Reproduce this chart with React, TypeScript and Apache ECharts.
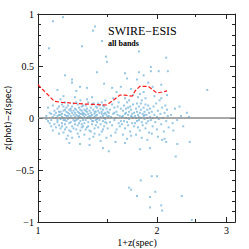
import React, { useEffect, useRef } from "react";
import * as echarts from "echarts";

// 1+z(spec), z(phot)-z(spec)
const clusterPoints: [number, number][] = [
  [1.05,0.02],[1.06,-0.03],[1.07,0.05],[1.08,-0.08],[1.06,0.10],[1.09,0.01],[1.08,-0.02],[1.10,0.07],[1.09,-0.12],[1.07,-0.05],[1.10,0.03],[1.05,-0.01],[1.09,0.12],[1.08,0.04],[1.10,-0.06],
  [1.11,0.00],[1.11,0.05],[1.12,-0.04],[1.12,0.09],[1.12,0.02],[1.13,-0.07],[1.13,0.03],[1.13,0.11],[1.14,-0.01],[1.14,0.06],[1.14,-0.10],[1.15,0.01],[1.15,0.04],[1.15,-0.05],[1.15,0.13],[1.16,-0.02],[1.16,0.07],[1.16,0.00],[1.16,-0.14],[1.17,0.03],[1.17,-0.06],[1.17,0.08],[1.17,0.15],[1.18,-0.03],[1.18,0.02],[1.18,0.10],[1.18,-0.09],[1.19,0.05],[1.19,-0.01],[1.19,0.12],[1.19,-0.17],[1.20,0.00],[1.20,0.04],[1.20,-0.05],[1.20,0.08],[1.11,-0.09],[1.13,-0.15],[1.14,0.18],[1.16,0.21],[1.18,-0.20],[1.12,-0.02],[1.15,-0.08],[1.17,-0.11],[1.19,0.02],[1.14,0.03],[1.16,0.11],[1.18,0.06],[1.20,-0.12],[1.13,0.06],[1.17,-0.02],
  [1.21,0.02],[1.21,-0.04],[1.21,0.07],[1.22,0.00],[1.22,0.11],[1.22,-0.08],[1.23,0.03],[1.23,-0.02],[1.23,0.14],[1.24,0.05],[1.24,-0.06],[1.24,0.01],[1.25,-0.11],[1.25,0.08],[1.25,0.03],[1.26,-0.01],[1.26,0.06],[1.26,-0.15],[1.27,0.02],[1.27,0.10],[1.27,-0.05],[1.28,0.04],[1.28,-0.03],[1.28,0.17],[1.29,0.00],[1.29,0.07],[1.29,-0.09],[1.30,0.03],[1.30,-0.02],[1.30,0.12],[1.21,-0.13],[1.22,0.05],[1.23,-0.10],[1.24,0.09],[1.25,-0.02],[1.26,0.13],[1.27,-0.18],[1.28,0.08],[1.29,-0.06],[1.30,0.05],[1.22,-0.19],[1.24,0.20],[1.26,0.02],[1.28,-0.12],[1.23,0.07],[1.25,0.15],[1.27,0.00],[1.29,0.04],[1.21,0.09],[1.26,-0.07],[1.28,0.01],[1.30,-0.08],[1.24,-0.03],[1.27,0.05],[1.29,0.11],
  [1.31,0.01],[1.31,-0.05],[1.31,0.08],[1.32,0.03],[1.32,-0.02],[1.32,0.12],[1.33,0.00],[1.33,-0.09],[1.33,0.06],[1.34,0.04],[1.34,-0.04],[1.34,0.15],[1.35,0.02],[1.35,-0.12],[1.35,0.07],[1.36,-0.01],[1.36,0.10],[1.36,0.05],[1.37,-0.06],[1.37,0.03],[1.37,0.13],[1.38,0.00],[1.38,-0.03],[1.38,0.08],[1.39,0.04],[1.39,-0.10],[1.39,0.01],[1.40,0.06],[1.40,-0.02],[1.40,0.11],[1.31,-0.16],[1.33,0.18],[1.35,-0.20],[1.37,0.20],[1.39,-0.15],[1.32,0.07],[1.34,-0.08],[1.36,0.02],[1.38,0.14],[1.40,-0.07],[1.31,0.04],[1.33,0.09],[1.35,0.00],[1.37,-0.03],[1.39,0.06],[1.34,0.01],[1.36,-0.13],[1.38,-0.18],[1.32,-0.11],[1.40,0.02],
  [1.41,0.03],[1.41,-0.04],[1.42,0.07],[1.42,0.00],[1.42,-0.09],[1.43,0.05],[1.43,0.12],[1.43,-0.02],[1.44,0.01],[1.44,0.09],[1.44,-0.06],[1.45,0.04],[1.45,-0.13],[1.45,0.15],[1.46,0.02],[1.46,-0.03],[1.46,0.08],[1.47,0.00],[1.47,0.11],[1.47,-0.08],[1.48,0.05],[1.48,-0.01],[1.48,0.17],[1.49,0.03],[1.49,-0.05],[1.49,0.09],[1.50,0.01],[1.50,-0.10],[1.41,0.10],[1.43,-0.16],[1.45,0.06],[1.47,0.04],[1.49,-0.19],[1.42,0.14],[1.44,-0.22],[1.46,0.12],[1.48,-0.04],[1.50,0.06],[1.46,-0.11],[1.41,-0.01],
  [1.51,0.02],[1.52,-0.04],[1.52,0.08],[1.53,0.01],[1.54,0.13],[1.54,-0.07],[1.55,0.04],[1.56,-0.02],[1.56,0.10],[1.57,0.00],[1.58,-0.11],[1.58,0.06],[1.59,0.03],[1.60,-0.05],[1.60,0.15],[1.61,0.02],[1.62,-0.03],[1.62,0.09],[1.53,-0.17],[1.55,0.19],[1.57,-0.14],[1.59,0.11],[1.61,-0.08],[1.51,0.05],[1.56,0.05],
  [1.63,0.01],[1.63,-0.06],[1.64,0.07],[1.64,0.02],[1.65,-0.03],[1.65,0.12],[1.66,0.04],[1.66,-0.10],[1.67,0.00],[1.67,0.09],[1.68,-0.04],[1.68,0.15],[1.69,0.03],[1.69,-0.07],[1.70,0.06],[1.70,-0.01],[1.71,0.11],[1.71,-0.13],[1.72,0.02],[1.72,0.08],[1.73,-0.05],[1.73,0.04],[1.74,0.00],[1.74,0.13],[1.75,-0.08],[1.75,0.05],[1.64,-0.16],[1.66,0.19],[1.68,-0.20],[1.70,0.17],[1.72,-0.17],[1.74,0.22],[1.67,0.05],[1.69,0.10],[1.73,0.01],
  [1.76,0.02],[1.76,-0.05],[1.77,0.09],[1.77,0.00],[1.78,-0.03],[1.78,0.06],[1.78,0.14],[1.79,0.03],[1.79,-0.09],[1.80,0.01],[1.80,0.11],[1.80,-0.02],[1.81,0.05],[1.81,-0.12],[1.82,0.08],[1.82,0.00],[1.83,-0.04],[1.83,0.17],[1.84,0.04],[1.84,-0.07],[1.85,0.02],[1.85,0.10],[1.86,-0.01],[1.86,0.06],[1.87,-0.10],[1.87,0.13],[1.88,0.03],[1.88,-0.05],[1.89,0.08],[1.89,0.00],[1.90,-0.03],[1.90,0.12],[1.91,0.05],[1.91,-0.14],[1.92,0.01],[1.92,0.09],[1.77,-0.16],[1.79,0.20],[1.81,0.23],[1.83,-0.19],[1.85,0.25],[1.87,0.19],[1.89,-0.21],[1.82,0.14],[1.86,0.03],
  [1.93,-0.02],[1.94,0.06],[1.95,0.00],[1.95,-0.08],[1.96,0.11],[1.97,0.03],[1.98,-0.04],[1.99,0.14],[2.00,0.01],[2.00,-0.11],[2.01,0.07],[2.02,-0.01],[2.03,0.17],[2.04,0.04],[2.05,-0.06],[2.06,0.10],[2.07,0.00],[2.08,-0.13],[2.09,0.05],[2.10,0.12],[2.11,-0.03],[2.12,0.08],[2.13,0.02],[2.14,-0.09],[1.97,0.21],[2.01,-0.18],[2.05,0.19],[2.09,-0.20],[2.12,0.22],[1.94,-0.15],
  [2.17,0.03],[2.19,-0.05],[2.22,0.09],[2.25,-0.02],[2.28,0.11],[2.33,-0.08],[2.41,0.01],[2.38,0.05],[2.20,-0.12],[2.30,0.02],
];

const highOutliers: [number, number][] = [
  [1.091,0.93],[1.157,0.97],[1.066,0.67],[1.292,0.69],[1.394,0.88],[1.378,0.84],[1.452,0.74],[1.486,0.59],[1.495,0.54],[1.41,0.44],[1.17,0.41],[1.219,0.37],[1.219,0.34],[1.277,0.30],[1.33,0.29],[1.54,0.29],[1.80,0.64],[2.11,0.58],[1.93,0.49],[1.93,0.45],[2.02,0.45],[2.13,0.45],[2.68,0.27],[1.68,0.38],[1.80,0.44],[1.78,0.37],[1.85,0.41],[1.66,0.43],[1.62,0.30],[1.72,0.28],[1.95,0.30],[2.05,0.32],[1.25,0.26],[1.47,0.33],[1.12,0.27],[1.58,0.25],[1.90,0.34],
];

const lowOutliers: [number, number][] = [
  [1.277,-0.25],[1.51,-0.32],[2.0,-0.56],[1.94,-0.56],[1.82,-0.60],[1.70,-0.67],[1.72,-0.69],[1.78,-0.75],[1.92,-0.76],[1.98,-0.71],[2.31,-0.75],[1.92,-0.86],[2.05,-0.84],[2.06,-0.89],[2.45,-0.98],[2.23,-0.37],[2.42,-0.23],[2.25,-0.25],[2.11,-0.23],[1.81,-0.30],[1.66,-0.24],[1.46,-0.29],[1.57,-0.23],[1.20,-0.24],[1.35,-0.26],[1.92,-0.29],[2.06,-0.21],
];

const curveZ = [1.0, 1.1, 1.15, 1.2, 1.3, 1.4, 1.49, 1.55, 1.61, 1.66, 1.73, 1.76, 1.81, 1.9, 2.0, 2.06, 2.12];
const curveDz = [0.32, 0.16, 0.15, 0.145, 0.135, 0.13, 0.125, 0.17, 0.22, 0.22, 0.21, 0.26, 0.305, 0.305, 0.24, 0.25, 0.26];

const xMajorTicks = [1, 2, 3];
const xMinorTicks = [1.5, 2.5];
const xMax = 3.15;
const xTitle = "1+z(spec)";
const yTitle = "z(phot)\u2212z(spec)";

const lg = (v: number) => Math.log10(v);
const FONT = "Liberation Serif";

export default function App() {
  const ref = useRef<HTMLDivElement>(null);
  useEffect(() => {
    if (!ref.current) return;
    const chart = echarts.init(ref.current, undefined, { renderer: "svg" });
    const allPts = [...clusterPoints, ...highOutliers, ...lowOutliers].map(([z, d]) => [lg(z), d]);
    const baseX = (pos: "bottom" | "top", ticks: number[], len: number, labels: boolean) => ({
      type: "value",
      position: pos,
      min: 0,
      max: lg(xMax),
      axisLine: { show: true, onZero: false, lineStyle: { color: "#222", width: 1 } },
      axisTick: { show: true, inside: true, length: len, customValues: ticks.map(lg), lineStyle: { color: "#222" } },
      axisLabel: {
        show: labels,
        customValues: ticks.map(lg),
        formatter: (v: number) => String(Math.round(Math.pow(10, v))),
        color: "#000",
        fontFamily: FONT,
        fontSize: 10,
        margin: 3,
      },
      splitLine: { show: false },
    });
    const yFmt = (v: number) => (v === 0 ? "0" : v < 0 ? "\u2212" + Math.abs(v) : String(v));
    const baseY = (pos: "left" | "right", labels: boolean) => ({
      type: "value",
      position: pos,
      min: -1,
      max: 1,
      interval: 0.5,
      axisLine: { show: true, onZero: false, lineStyle: { color: "#222", width: 1 } },
      axisTick: { show: true, inside: true, length: 5, lineStyle: { color: "#222" } },
      minorTick: { show: true, splitNumber: 5, length: 3, lineStyle: { color: "#222" } },
      axisLabel: { show: labels, formatter: yFmt, color: "#000", fontFamily: FONT, fontSize: 10, margin: 4 },
      splitLine: { show: false },
      minorSplitLine: { show: false },
    });
    chart.setOption({
      animation: false,
      backgroundColor: "#fff",
      grid: { left: 38, top: 14, right: 14, bottom: 27, containLabel: false, outerBoundsMode: "none" },
      xAxis: [
        baseX("bottom", xMajorTicks, 5, true),
        baseX("bottom", xMinorTicks, 3, false),
        baseX("top", xMajorTicks, 5, false),
        baseX("top", xMinorTicks, 3, false),
      ],
      yAxis: [baseY("left", true), baseY("right", false)],
      graphic: [
        { type: "text", left: 108, top: 25, style: { text: "SWIRE\u2212ESIS", font: `12px "${FONT}"`, fill: "#000" } },
        { type: "text", left: 108, top: 39, style: { text: "all bands", font: `bold 8px "${FONT}"`, fill: "#000" } },
        { type: "text", x: 137, y: 242, style: { text: xTitle, font: `10px "${FONT}"`, fill: "#000", align: "center", verticalAlign: "middle" } },
        { type: "text", x: 8, y: 118, rotation: Math.PI / 2, style: { text: yTitle, font: `8px "DejaVu Sans"`, fill: "#000", align: "center", verticalAlign: "middle" } },
      ],
      series: [
        {
          type: "scatter",
          xAxisIndex: 0,
          yAxisIndex: 0,
          symbol: "rect",
          symbolSize: 2,
          itemStyle: { color: "#7db8dc" },
          data: allPts,
          z: 2,
        },
        {
          type: "line",
          xAxisIndex: 0,
          yAxisIndex: 0,
          data: [[0, 0], [lg(xMax), 0]],
          symbol: "none",
          lineStyle: { color: "#8a8a8a", width: 1.5 },
          z: 3,
        },
        {
          type: "line",
          xAxisIndex: 0,
          yAxisIndex: 0,
          data: curveZ.map((z, i) => [lg(z), curveDz[i]]),
          symbol: "none",
          lineStyle: { color: "#ff1a1a", width: 1.2, type: [4, 2] },
          z: 4,
        },
      ],
    });
    return () => chart.dispose();
  }, []);
  return <div ref={ref} style={{ width: 249, height: 249, position: "absolute", left: 0, top: 0 }} />;
}
